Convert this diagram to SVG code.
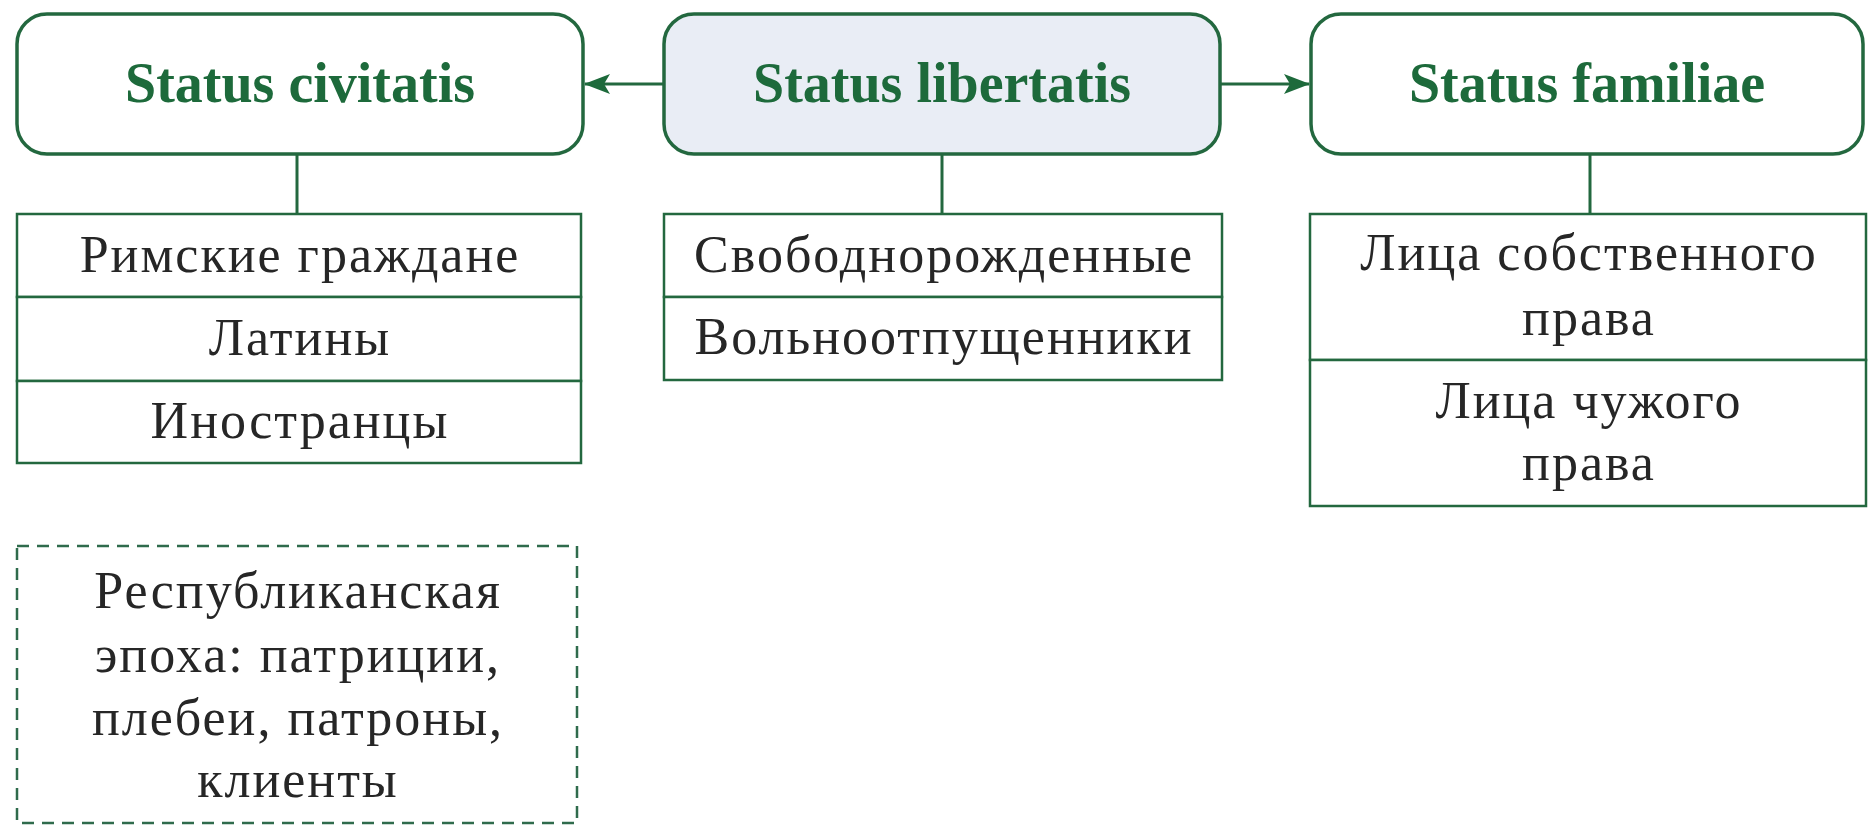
<svg xmlns="http://www.w3.org/2000/svg" width="1870" height="837" viewBox="0 0 1870 837">
<defs>
<style>
.head{fill:#ffffff;stroke:#23683f;stroke-width:3.5}
.headfill{fill:#e9edf5}
.title{font-family:'Liberation Serif','DejaVu Serif',serif;font-weight:bold;font-size:56px;fill:#1d6a3b;text-anchor:middle}
.cell{fill:#ffffff;stroke:#23683f;stroke-width:2.5}
.txt{font-family:'Liberation Serif','DejaVu Serif',serif;font-size:52px;letter-spacing:2px;fill:#262626;text-anchor:middle}
.conn{stroke:#23683f;stroke-width:3;fill:none}
.dash{fill:#ffffff;stroke:#2f6b4c;stroke-width:2.5;stroke-dasharray:12 8}
</style>
<marker id="arr" markerWidth="26" markerHeight="20" refX="25" refY="10" orient="auto" markerUnits="userSpaceOnUse" viewBox="0 0 26 20">
<path d="M0,0 L26,10 L0,20 L6,10 Z" fill="#1d6a3b"/>
</marker>
</defs>
<rect width="1870" height="837" fill="#ffffff"/>
<g id="connectors">
<line class="conn" x1="664" y1="84" x2="585" y2="84" marker-end="url(#arr)"/>
<line class="conn" x1="1220" y1="84" x2="1309" y2="84" marker-end="url(#arr)"/>
<line class="conn" x1="297" y1="154" x2="297" y2="214"/>
<line class="conn" x1="942" y1="154" x2="942" y2="214"/>
<line class="conn" x1="1590" y1="154" x2="1590" y2="214"/>
</g>
<g id="status-civitatis">
<rect class="head" x="17" y="14" width="566" height="140" rx="30"/>
<text class="title" x="300" y="102">Status civitatis</text>
</g>
<g id="status-libertatis">
<rect class="head headfill" x="664" y="14" width="556" height="140" rx="30"/>
<text class="title" x="942" y="102">Status libertatis</text>
</g>
<g id="status-familiae">
<rect class="head" x="1311" y="14" width="552" height="140" rx="30"/>
<text class="title" x="1587" y="102">Status familiae</text>
</g>
<g id="civitatis-list">
<rect class="cell" x="17" y="214" width="564" height="83"/>
<rect class="cell" x="17" y="297" width="564" height="84"/>
<rect class="cell" x="17" y="381" width="564" height="82"/>
<text class="txt" x="300" y="272">Римские граждане</text>
<text class="txt" x="300" y="355">Латины</text>
<text class="txt" x="300" y="438">Иностранцы</text>
</g>
<g id="libertatis-list">
<rect class="cell" x="664" y="214" width="558" height="83"/>
<rect class="cell" x="664" y="297" width="558" height="83"/>
<text class="txt" x="944" y="272">Свободнорожденные</text>
<text class="txt" x="944" y="354">Вольноотпущенники</text>
</g>
<g id="familiae-list">
<rect class="cell" x="1310" y="214" width="556" height="146"/>
<rect class="cell" x="1310" y="360" width="556" height="146"/>
<text class="txt" x="1589" y="270">Лица собственного</text>
<text class="txt" x="1589" y="335">права</text>
<text class="txt" x="1589" y="418">Лица чужого</text>
<text class="txt" x="1589" y="480">права</text>
</g>
<g id="republic-note">
<rect class="dash" x="17" y="546" width="560" height="277"/>
<text class="txt" x="298" y="608">Республиканская</text>
<text class="txt" x="298" y="672">эпоха: патриции,</text>
<text class="txt" x="298" y="735">плебеи, патроны,</text>
<text class="txt" x="298" y="797">клиенты</text>
</g>
</svg>
